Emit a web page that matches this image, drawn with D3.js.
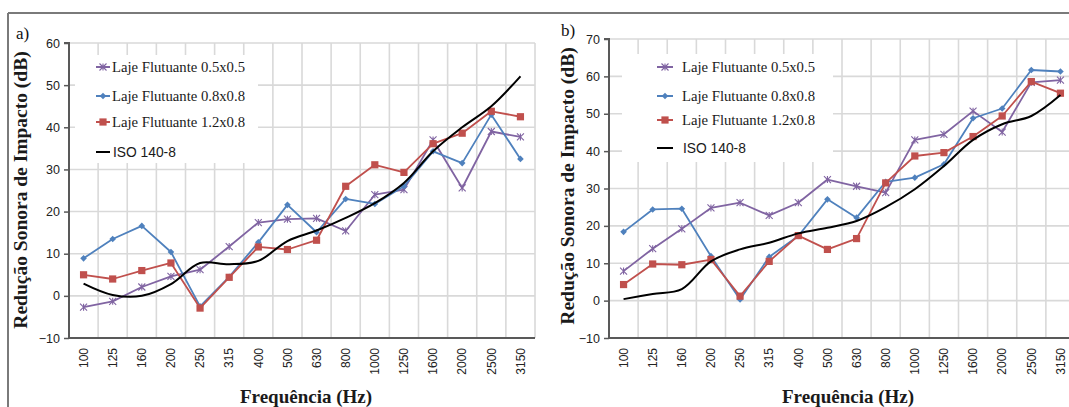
<!DOCTYPE html>
<html>
<head>
<meta charset="utf-8">
<script src="https://cdn.jsdelivr.net/npm/d3@7"></script>
<style>
  html, body { margin: 0; padding: 0; background: #fff; }
  svg { display: block; }
</style>
</head>
<body>
<svg id="chart" width="1069" height="407"></svg>
<script>
// Octave-band centre frequencies (Hz)
const freqLabels = ["100","125","160","200","250","315","400","500","630","800","1000","1250","1600","2000","2500","3150"];

// Series names
const seriesNames = ["Laje Flutuante 0.5x0.5", "Laje Flutuante 0.8x0.8", "Laje Flutuante 1.2x0.8", "ISO 140-8"];

// Panel a) – impact sound reduction (dB)
const aLaje05 = [-2.7, -1.3, 2.1, 4.6, 6.2, 11.7, 17.4, 18.2, 18.4, 15.4, 24.0, 25.2, 37.0, 25.6, 39.0, 37.7];
const aLaje08 = [8.9, 13.5, 16.6, 10.4, -2.5, 4.5, 12.7, 21.6, 15.1, 23.0, 21.8, 26.0, 34.3, 31.5, 43.0, 32.5];
const aLaje12 = [5.0, 4.0, 6.0, 7.8, -2.9, 4.4, 11.6, 11.0, 13.2, 26.0, 31.1, 29.3, 36.1, 38.6, 43.8, 42.5];
const aIso    = [2.9, 0.2, 0.0, 2.8, 7.8, 7.5, 8.3, 13.0, 15.5, 18.5, 22.0, 26.8, 34.3, 40.0, 45.0, 52.1];

// Panel b) – impact sound reduction (dB)
const bLaje05 = [7.9, 13.9, 19.2, 24.8, 26.2, 22.8, 26.2, 32.4, 30.6, 28.9, 43.0, 44.5, 50.7, 45.1, 58.4, 59.0];
const bLaje08 = [18.4, 24.4, 24.6, 11.9, 0.3, 11.7, 17.3, 27.1, 22.2, 31.8, 32.9, 36.5, 48.8, 51.4, 61.7, 61.3];
const bLaje12 = [4.3, 9.8, 9.6, 11.0, 1.2, 10.5, 17.4, 13.7, 16.6, 31.5, 38.7, 39.6, 43.9, 49.4, 58.6, 55.5];
const bIso    = [0.4, 1.8, 3.1, 10.5, 13.7, 15.5, 18.0, 19.5, 21.3, 25.0, 29.8, 36.0, 43.0, 47.2, 49.4, 55.0];

// Y tick values
const yTicksA = [-10, 0, 10, 20, 30, 40, 50, 60];
const yTicksB = [-10, 0, 10, 20, 30, 40, 50, 60, 70];

const colors = ["#8064a2", "#4f81bd", "#c0504d", "#000000"];
const markers = ["x", "diamond", "square", "none"];

const serifFont = "Liberation Serif, Times New Roman, serif";
const sansFont = "Liberation Sans, Arial, sans-serif";

const svg = d3.select("#chart");

// Outer frame (top and left edges)
svg.append("line").attr("x1", 8).attr("x2", 1069).attr("y1", 13).attr("y2", 13)
  .attr("stroke", "#7a7a7a").attr("stroke-width", 2);
svg.append("line").attr("x1", 8).attr("x2", 8).attr("y1", 13).attr("y2", 407)
  .attr("stroke", "#7a7a7a").attr("stroke-width", 2);

function drawMarker(g, type, x, y, color) {
  if (type === "x") {
    const s = 3.5;
    g.append("path")
      .attr("d", `M${x - s},${y - s}L${x + s},${y + s}M${x - s},${y + s}L${x + s},${y - s}M${x},${y - s}L${x},${y + s}`)
      .attr("stroke", color).attr("stroke-width", 1.1).attr("fill", "none");
  } else if (type === "diamond") {
    const s = 3.3;
    g.append("path")
      .attr("d", `M${x},${y - s}L${x + s},${y}L${x},${y + s}L${x - s},${y}Z`)
      .attr("fill", color);
  } else if (type === "square") {
    const s = 3.6;
    g.append("rect").attr("x", x - s).attr("y", y - s).attr("width", 2 * s).attr("height", 2 * s)
      .attr("fill", color);
  }
}

function drawPanel(cfg) {
  const g = svg.append("g");
  const x = d3.scaleBand().domain(freqLabels).range([cfg.left, cfg.right]);
  const y = d3.scaleLinear().domain(cfg.yDomain).range([cfg.bottom, cfg.top]);
  const cx = d => x(d) + x.bandwidth() / 2;

  // Gridlines
  const grid = g.append("g");
  grid.selectAll("line.h").data(cfg.yTicks.slice(1)).join("line")
    .attr("x1", cfg.left).attr("x2", cfg.right)
    .attr("y1", d => y(d)).attr("y2", d => y(d))
    .attr("stroke", "#d9d9d9").attr("stroke-width", 1.6);
  const edges = freqLabels.map(f => x(f) + x.bandwidth());
  grid.selectAll("line.v").data(edges).join("line")
    .attr("x1", d => d).attr("x2", d => d)
    .attr("y1", cfg.top).attr("y2", cfg.bottom)
    .attr("stroke", "#d9d9d9").attr("stroke-width", 1.6);

  // Legend background hides the gridlines behind it
  g.append("rect").attr("x", cfg.legend.box[0]).attr("y", cfg.legend.box[1])
    .attr("width", cfg.legend.box[2]).attr("height", cfg.legend.box[3]).attr("fill", "#fff");

  // Axes
  const yAxis = d3.axisLeft(y).tickValues(cfg.yTicks).tickSize(5).tickPadding(4);
  const ya = g.append("g").attr("transform", `translate(${cfg.left},0)`).call(yAxis);
  ya.select(".domain").attr("stroke", "#595959").attr("stroke-width", 2)
    .attr("d", `M-5,${cfg.top}H0V${cfg.bottom}`);
  ya.selectAll(".tick line").attr("stroke", "#595959").attr("stroke-width", 1.5);
  ya.selectAll(".tick text").attr("font-family", sansFont)
    .attr("font-size", 12.5).attr("fill", "#222");

  const xAxis = d3.axisBottom(x).tickSize(0).tickPadding(0);
  const xa = g.append("g").attr("transform", `translate(0,${cfg.bottom})`).call(xAxis);
  xa.select(".domain").attr("stroke", "#595959").attr("stroke-width", 2)
    .attr("d", `M${cfg.left},0H${cfg.right}`);
  xa.selectAll(".tick text")
    .attr("font-family", sansFont).attr("font-size", 12)
    .attr("fill", "#222")
    .attr("text-anchor", "end").attr("dy", "0.35em")
    .attr("transform", "translate(0,10) rotate(-90)")
    .attr("x", 0).attr("y", 0);

  // Series lines and markers
  cfg.series.forEach((vals, i) => {
    const pts = vals.map((v, j) => [cx(freqLabels[j]), y(v)]);
    const line = d3.line().curve(i === 3 ? d3.curveCatmullRom.alpha(0.5) : d3.curveLinear);
    g.append("path").attr("d", line(pts)).attr("fill", "none")
      .attr("stroke", colors[i]).attr("stroke-width", i === 3 ? 2 : 1.8)
      .attr("stroke-linejoin", "round");
    pts.forEach(p => drawMarker(g, markers[i], p[0], p[1], colors[i]));
  });

  // Legend
  const lg = g.append("g");
  seriesNames.forEach((name, i) => {
    const ly = cfg.legend.rows[i];
    lg.append("line").attr("x1", cfg.legend.x0).attr("x2", cfg.legend.x1)
      .attr("y1", ly).attr("y2", ly).attr("stroke", colors[i]).attr("stroke-width", 2);
    drawMarker(lg, markers[i], (cfg.legend.x0 + cfg.legend.x1) / 2, ly, colors[i]);
    const serif = i < 3;
    lg.append("text").attr("x", cfg.legend.tx + (serif ? 0 : 1)).attr("y", ly).attr("dy", "0.35em")
      .attr("font-family", serif ? serifFont : sansFont)
      .attr("font-size", serif ? 14.7 : 13.8).attr("fill", "#1a1a1a")
      .text(name);
  });

  // Panel letter
  g.append("text").attr("x", cfg.letter[0]).attr("y", cfg.letter[1])
    .attr("font-family", serifFont).attr("font-size", 17)
    .attr("fill", "#111").text(cfg.letterText);

  // Axis titles
  g.append("text")
    .attr("transform", `translate(${cfg.yTitle[0]},${cfg.yTitle[1]}) rotate(-90)`)
    .attr("text-anchor", "middle").attr("dy", "0.35em")
    .attr("font-family", serifFont).attr("font-weight", "bold")
    .attr("font-size", 19.5).attr("fill", "#1a1a1a")
    .text("Redução Sonora de Impacto (dB)");
  g.append("text").attr("x", cfg.xTitle[0]).attr("y", cfg.xTitle[1])
    .attr("text-anchor", "middle")
    .attr("font-family", serifFont).attr("font-weight", "bold")
    .attr("font-size", 19).attr("fill", "#1a1a1a")
    .text("Frequência (Hz)");
}

drawPanel({
  left: 69, right: 535, top: 43, bottom: 338,
  yDomain: [-10, 60], yTicks: yTicksA,
  series: [aLaje05, aLaje08, aLaje12, aIso],
  legend: { box: [75, 55, 183, 108], rows: [67, 96, 122, 152], x0: 96, x1: 110, tx: 112 },
  letter: [16, 39], letterText: "a)",
  yTitle: [20, 190], xTitle: [306, 403]
});

drawPanel({
  left: 609, right: 1075, top: 39, bottom: 338,
  yDomain: [-10, 70], yTicks: yTicksB,
  series: [bLaje05, bLaje08, bLaje12, bIso],
  legend: { box: [622, 54, 211, 108], rows: [67, 96, 120, 148], x0: 657, x1: 673, tx: 682 },
  letter: [561, 36], letterText: "b)",
  yTitle: [567, 186], xTitle: [848, 403]
});
</script>
</body>
</html>
